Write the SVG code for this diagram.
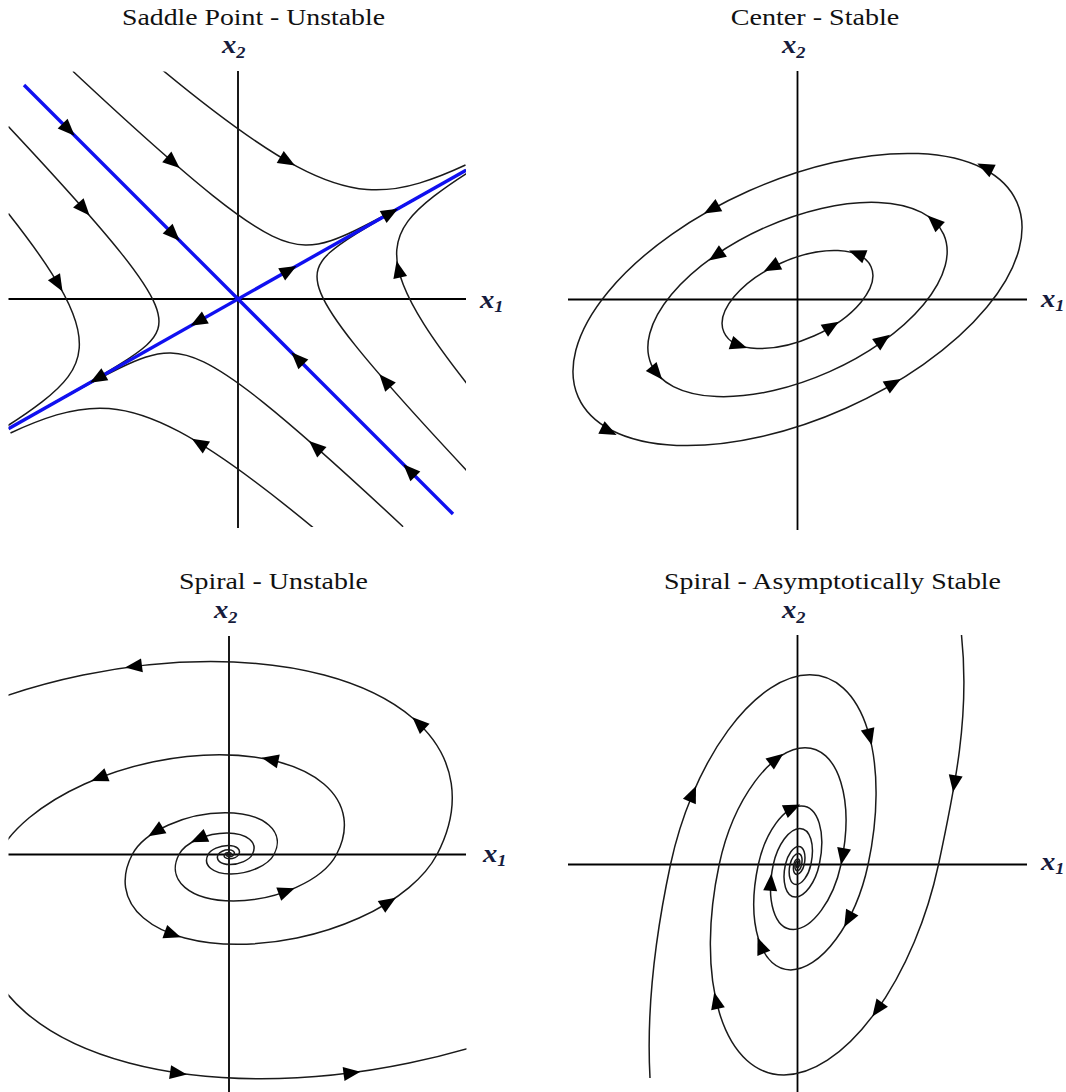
<svg xmlns="http://www.w3.org/2000/svg" xmlns:xlink="http://www.w3.org/1999/xlink" width="1066" height="1092" viewBox="0 0 1066 1092">
<style>
.ax{stroke:#000;stroke-width:1.8;fill:none}
.cv{stroke:#1a1a1a;stroke-width:1.5;fill:none}
.bl{stroke:#1010f0;stroke-width:3.4;fill:none}
.ttl{font-family:"Liberation Serif","Times New Roman",serif;font-size:24px;fill:#111;text-anchor:middle}
.lbl{font-family:"Liberation Serif","Times New Roman",serif;font-style:italic;font-weight:bold;font-size:25px;fill:#161b3c}
.arw{fill:#000}
</style>
<defs>
<path id="ah" d="M8,0 L-9,-7 L-9,7 Z"/>
<clipPath id="c1"><rect x="8.5" y="71.5" width="457.5" height="455.5"/></clipPath>
<clipPath id="c3"><rect x="8.5" y="636" width="458" height="456"/></clipPath>
</defs>
<rect width="1066" height="1092" fill="#fff"/>

<g id="panel-saddle">
<text class="ttl" x="253.5" y="25" textLength="263" lengthAdjust="spacingAndGlyphs">Saddle Point - Unstable</text>
<text class="lbl" transform="translate(222,53) scale(1.15 1)">x<tspan font-size="16" dy="5">2</tspan></text>
<text class="lbl" transform="translate(480,308) scale(1.15 1)">x<tspan font-size="16" dy="4">1</tspan></text>
<line class="ax" x1="8.5" y1="299" x2="466" y2="299"/>
<line class="ax" x1="238" y1="71" x2="238" y2="528"/>
<g clip-path="url(#c1)">
<path id="s1u1" class="cv" d="M162.9,70.4 C227.8,124 266.5,150.2 296.7,166.3 C326.9,182.4 348,188 367,189.5 C386,191 402.5,188.1 419.3,183.1 C434.3,178.6 449.4,172.5 465.5,165"/>
<path id="s1u2" class="cv" d="M72.9,71.3 C144.2,138 183.7,172.3 212.5,195.4 C241.3,218.5 258.6,229.4 272.4,236.1 C286.2,242.8 296.2,244.8 305.3,245 C314.4,245.2 322.4,243.45 330.7,240.7 C339,237.95 347.4,234.2 356.7,229.7 C367.5,224.4 379.6,218.1 393.1,210.7 C413.3,199.7 437,186.3 466.3,169.8"/>
<path id="s1l1" class="cv" d="M8.4,126.5 C70.1,192.4 101.1,228 121.5,253.6 C141.9,279.2 150.7,293.9 155.2,304.9 C159.7,315.9 159.8,323.2 157.8,329.3 C155.8,335.4 151.8,340.4 146.5,345.2 C139.6,351.5 130.45,357.6 119.6,364.4 C107.2,372.2 92.45,380.75 74.6,391 C56.15,401.6 34.4,413.9 8.35,428.65"/>
<path id="s1l2" class="cv" d="M8.4,213.5 C27.9,238.3 41.8,257.6 51.9,273.6 C62,289.6 68.5,302.4 72.7,313.2 C78.4,327.7 79.9,338.7 79.2,348.2 C78.3,359.5 74.2,368.55 68,376.9 C61.4,385.8 52.5,393.8 42,401.9 C32.1,409.55 20.8,417.4 8,425.5"/>
<use href="#s1u1" transform="rotate(180 238 299)"/>
<use href="#s1u2" transform="rotate(180 238 299)"/>
<use href="#s1l1" transform="rotate(180 238 299)"/>
<use href="#s1l2" transform="rotate(180 238 299)"/>
<line class="bl" x1="24" y1="85" x2="453" y2="514"/>
<line class="bl" x1="466" y1="170.2" x2="8.5" y2="428.7"/>
</g>
<g class="arw">
<use href="#ah" transform="translate(69,130) rotate(45)"/>
<use href="#ah" transform="translate(174,235) rotate(45)"/>
<use href="#ah" transform="translate(297,358) rotate(-135)"/>
<use href="#ah" transform="translate(409,470) rotate(-135)"/>
<use href="#ah" transform="translate(391,212.6) rotate(-29.5)"/>
<use href="#ah" transform="translate(289.5,269.9) rotate(-29.5)"/>
<use href="#ah" transform="translate(197.5,321.9) rotate(150.5)"/>
<use href="#ah" transform="translate(97,378.7) rotate(150.5)"/>
<use href="#ah" transform="translate(288,161.5) rotate(30)"/>
<use href="#ah" transform="translate(173.6,162.8) rotate(41)"/>
<use href="#ah" transform="translate(84.3,209.6) rotate(48.6)"/>
<use href="#ah" transform="translate(58.5,284.6) rotate(59.7)"/>
<use href="#ah" transform="translate(398.3,268.8) rotate(-102.4)"/>
<use href="#ah" transform="translate(384.6,380.3) rotate(-131)"/>
<use href="#ah" transform="translate(198.7,442.8) rotate(-148.6)"/>
<use href="#ah" transform="translate(315.1,446.2) rotate(-138.6)"/>
</g>
</g>

<g id="panel-center">
<text class="ttl" x="815" y="25" textLength="168.5" lengthAdjust="spacingAndGlyphs">Center - Stable</text>
<text class="lbl" transform="translate(782,53) scale(1.15 1)">x<tspan font-size="16" dy="5">2</tspan></text>
<text class="lbl" transform="translate(1041,307) scale(1.15 1)">x<tspan font-size="16" dy="4">1</tspan></text>
<line class="ax" x1="568" y1="299.5" x2="1027" y2="299.5"/>
<line class="ax" x1="797.5" y1="71" x2="797.5" y2="530"/>
<g transform="rotate(-24 797.5 299.5)">
<ellipse class="cv" cx="797.5" cy="299.5" rx="240" ry="119"/>
<ellipse class="cv" cx="797.5" cy="299.5" rx="160" ry="79"/>
<ellipse class="cv" cx="797.5" cy="299.5" rx="80.5" ry="40"/>
</g>
<g class="arw">
<use href="#ah" transform="translate(984.5,167) rotate(-153.5)"/>
<use href="#ah" transform="translate(711,209.5) rotate(151)"/>
<use href="#ah" transform="translate(609.5,431.5) rotate(26.5)"/>
<use href="#ah" transform="translate(894,383) rotate(-30.5)"/>
<use href="#ah" transform="translate(933.5,221) rotate(-137.5)"/>
<use href="#ah" transform="translate(715.5,256) rotate(145.4)"/>
<use href="#ah" transform="translate(657,373.5) rotate(49.9)"/>
<use href="#ah" transform="translate(883.5,339.5) rotate(-35.7)"/>
<use href="#ah" transform="translate(856.5,253.5) rotate(-158.5)"/>
<use href="#ah" transform="translate(771,267.5) rotate(152)"/>
<use href="#ah" transform="translate(739.5,345.5) rotate(18.8)"/>
<use href="#ah" transform="translate(832,326) rotate(-31.6)"/>
</g>
</g>

<g id="panel-spiral-unstable">
<text class="ttl" x="273.5" y="589" textLength="189" lengthAdjust="spacingAndGlyphs">Spiral - Unstable</text>
<text class="lbl" transform="translate(214,618) scale(1.15 1)">x<tspan font-size="16" dy="5">2</tspan></text>
<text class="lbl" transform="translate(483,862) scale(1.15 1)">x<tspan font-size="16" dy="4">1</tspan></text>
<line class="ax" x1="8.5" y1="854.5" x2="466" y2="854.5"/>
<line class="ax" x1="229" y1="636" x2="229" y2="1092"/>
<g clip-path="url(#c3)">
<path class="cv" d="M228.02,854.5 A1.067,0.553 -13 0 0 231.1,854.5 A1.067,0.553 -13 0 0 224.47,854.5 A1.067,0.553 -13 0 0 238.73,854.5 A1.067,0.553 -13 0 0 208.1,854.5 A1.067,0.553 -13 0 0 274,854.5 A1.067,0.553 -13 0 0 132.25,854.5 A1.067,0.553 -13 0 0 437,854.5 A1.067,0.553 -13 0 0 -218,854.5"/>
<path class="cv" d="M230.09,854.5 A1.067,0.553 -13 0 0 226.66,854.5 A1.067,0.553 -13 0 0 234.04,854.5 A1.067,0.553 -13 0 0 218.2,854.5 A1.067,0.553 -13 0 0 252.3,854.5 A1.067,0.553 -13 0 0 179,854.5 A1.067,0.553 -13 0 0 336.5,854.5 A1.067,0.553 -13 0 0 -2,854.5 A1.067,0.553 -13 0 0 759,854.5"/>
</g>
<g class="arw">
<use href="#ah" transform="translate(133,666.5) rotate(172.6)"/>
<use href="#ah" transform="translate(418.2,722.7) rotate(-136.5)"/>
<use href="#ah" transform="translate(389.1,902) rotate(-32.3)"/>
<use href="#ah" transform="translate(173.3,934.6) rotate(19.7)"/>
<use href="#ah" transform="translate(155.1,832) rotate(148.1)"/>
<use href="#ah" transform="translate(269.5,759.5) rotate(-168)"/>
<use href="#ah" transform="translate(98.6,778) rotate(158.6)"/>
<use href="#ah" transform="translate(287.2,891) rotate(-20.5)"/>
<use href="#ah" transform="translate(198.2,839) rotate(156.2)"/>
<use href="#ah" transform="translate(179,1073.4) rotate(8.2)"/>
<use href="#ah" transform="translate(352.5,1072.8) rotate(-7.5)"/>
</g>
</g>

<g id="panel-spiral-stable">
<text class="ttl" x="832.5" y="589" textLength="337" lengthAdjust="spacingAndGlyphs">Spiral - Asymptotically Stable</text>
<text class="lbl" transform="translate(782,618) scale(1.15 1)">x<tspan font-size="16" dy="5">2</tspan></text>
<text class="lbl" transform="translate(1041,870) scale(1.15 1)">x<tspan font-size="16" dy="4">1</tspan></text>
<line class="ax" x1="568" y1="864.5" x2="1027" y2="864.5"/>
<line class="ax" x1="797.5" y1="635" x2="797.5" y2="1092"/>
<path class="cv" d="M961.5,635 C970,715 955.2,786.3 938.5,864.5 A1.978,0.971 -74 0 1 719.2,864.5 A1.978,0.971 -74 0 1 841,864.5 A1.978,0.971 -74 0 1 773.3,864.5 A1.978,0.971 -74 0 1 810.9,864.5 A1.978,0.971 -74 0 1 790,864.5 A1.978,0.971 -74 0 1 801.6,864.5 A1.978,0.971 -74 0 1 795.2,864.5 A1.978,0.971 -74 0 1 798.8,864.5 A1.978,0.971 -74 0 1 796.8,864.5"/>
<path class="cv" d="M650,1078 C646,1005 655.9,933 670.5,864.5 A1.978,0.971 -74 0 1 868.1,864.5 A1.978,0.971 -74 0 1 758.3,864.5 A1.978,0.971 -74 0 1 819.3,864.5 A1.978,0.971 -74 0 1 785.4,864.5 A1.978,0.971 -74 0 1 804.2,864.5 A1.978,0.971 -74 0 1 793.8,864.5 A1.978,0.971 -74 0 1 799.6,864.5 A1.978,0.971 -74 0 1 796.35,864.5"/>
<g class="arw">
<use href="#ah" transform="translate(954.3,784.2) rotate(99)"/>
<use href="#ah" transform="translate(877,1010) rotate(125.4)"/>
<use href="#ah" transform="translate(716,1000) rotate(-102.7)"/>
<use href="#ah" transform="translate(776.9,758.6) rotate(-37)"/>
<use href="#ah" transform="translate(842.5,857) rotate(100.2)"/>
<use href="#ah" transform="translate(770.8,881.7) rotate(-86)"/>
<use href="#ah" transform="translate(692.9,793.3) rotate(-67)"/>
<use href="#ah" transform="translate(869.8,737.6) rotate(75.7)"/>
<use href="#ah" transform="translate(848,920) rotate(118.2)"/>
<use href="#ah" transform="translate(760.5,945) rotate(-111.9)"/>
<use href="#ah" transform="translate(793,807.9) rotate(-24.9)"/>
</g>
</g>
</svg>
